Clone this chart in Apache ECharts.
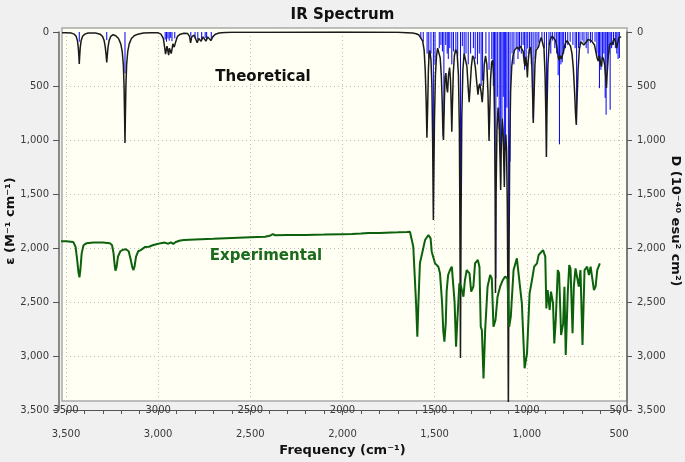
<!DOCTYPE html>
<html><head><meta charset="utf-8">
<script src="https://cdn.jsdelivr.net/npm/echarts/dist/echarts.min.js"></script>
<style>html,body{margin:0;padding:0;background:#f0f0f0;}#c{width:685px;height:462px;}</style>
</head><body><div id="c"></div>
<script>
// ---------- data ----------
const freqTicks = [3500, 3000, 2500, 2000, 1500, 1000, 500];
const yTicks = [0, 500, 1000, 1500, 2000, 2500, 3000, 3500];

// theoretical broadened spectrum (frequency cm-1, epsilon)
const theoreticalLine = [
[3521,8],[3500,6],[3470,10],[3455,20],[3445,40],[3438,80],[3433,150],[3430,230],[3428,296],[3426,230],[3423,150],[3418,80],[3410,40],[3398,20],[3380,10],
[3340,10],[3315,20],[3302,40],[3293,80],[3287,140],[3282,220],[3279,281],[3276,220],[3272,140],[3266,80],[3257,40],[3245,25],
[3230,35],[3215,60],[3203,110],[3195,180],[3189,300],[3185,500],[3182,800],[3180,1028],[3178,800],[3175,500],[3171,300],[3165,180],[3157,110],[3145,60],[3130,35],[3110,20],[3080,10],[3040,6],
[3000,8],[2985,20],[2972,60],[2965,140],[2960,205],[2956,190],[2952,130],[2948,170],[2943,215],[2939,150],[2934,140],[2929,200],[2925,190],[2920,110],[2913,140],[2909,150],[2903,80],[2895,40],[2880,20],[2860,12],
[2840,15],[2830,40],[2824,100],[2818,45],[2805,30],[2795,45],[2788,100],[2785,110],[2780,60],[2773,50],[2767,85],[2763,95],[2757,45],[2748,45],[2741,85],[2737,95],[2731,45],[2722,40],[2714,80],[2710,90],[2704,45],[2690,20],[2670,10],[2640,5],[2600,3],[2400,2],[2000,1],[1700,3],
[1650,6],[1620,10],[1600,16],[1585,28],[1575,45],[1565,85],[1557,170],[1551,360],[1546,650],[1542,980],[1538,700],[1534,350],[1530,200],[1526,170],
[1520,260],[1515,500],[1511,1000],[1508,1600],[1507,1740],[1505,1400],[1501,800],[1496,400],[1490,220],[1484,150],[1478,160],[1470,240],[1464,400],[1459,650],[1455,950],[1452,1000],[1449,750],[1444,420],[1439,380],[1434,520],[1430,560],[1425,400],[1419,330],[1414,450],[1410,700],[1407,923],[1404,700],[1399,380],[1393,220],[1386,160],[1378,200],[1371,400],[1366,900],[1363,1800],[1360,3019],[1357,1800],[1353,800],[1347,350],[1340,200],[1333,200],[1325,320],[1318,520],[1313,650],[1308,520],[1301,320],[1294,220],[1287,240],[1279,330],[1271,480],[1265,580],[1260,500],[1255,480],[1248,560],[1242,650],[1237,520],[1231,300],[1224,220],[1217,300],[1211,550],[1207,850],[1205,1009],[1202,800],[1197,450],[1191,280],[1185,260],[1179,420],[1175,800],[1172,1500],[1170,2417],[1167,1500],[1162,900],[1156,700],[1150,850],[1145,1200],[1142,1463],[1139,1100],[1134,800],[1129,900],[1125,1200],[1122,1435],[1119,1100],[1114,950],[1110,1100],[1106,1600],[1103,2400],[1100,3426],[1097,2200],[1093,1100],[1088,550],[1082,320],[1075,220],[1067,170],[1060,160],[1052,140],[1044,160],[1036,130],[1028,140],[1020,180],[1014,280],[1010,315],[1006,230],[1001,300],[997,420],[993,280],[987,160],[980,140],[974,250],[969,550],[965,843],[961,600],[956,300],[950,170],[944,160],[937,140],[930,90],[922,50],[914,60],[907,150],[901,400],[897,750],[894,1157],[891,750],[886,320],[879,120],[871,60],[862,40],[852,50],[844,80],[836,150],[830,230],[825,260],[819,220],[812,250],[806,256],[800,170],[792,110],[782,80],[772,90],[763,130],[755,200],[748,330],[741,550],[736,750],[732,858],[728,650],[722,350],[715,160],[707,90],[699,90],[691,120],[684,130],[677,90],[668,70],[659,70],[650,80],[641,90],[633,120],[626,180],[619,240],[612,270],[606,220],[600,290],[595,320],[590,230],[584,250],[578,300],[572,420],[568,518],[564,380],[558,220],[551,120],[544,100],[538,120],[531,80],[524,60],[518,100],[512,148],[506,90],[500,50],[494,60],[488,45]
];

// computed stick spectrum (frequency cm-1, dipole strength D)
const stickFreq = [3428,3279,3180,2962,2955,2947,2940,2932,2925,2910,2823,2800,2785,2764,2745,2737,2712,
1575,1562,1541,1532,1520,1507,1498,1475,1466,1458,1450,1440,1432,1426,1418,1407,1398,1385,1375,1360,1350,1340,1330,1318,1305,1290,1280,1268,1258,1248,1240,1222,1205,1190,1182,1175,1168,1160,1150,1142,1135,1128,1122,1115,1108,1100,1091,1080,1070,1058,1048,1040,1030,1020,1012,1004,995,985,976,966,955,945,935,918,905,893,880,870,860,848,838,830,823,815,808,800,790,778,765,750,738,730,720,712,700,690,678,668,655,645,630,620,612,606,598,590,582,575,570,562,555,548,540,530,520,512,505,498];
const stickD = [90,75,383,70,90,60,80,55,85,60,40,55,70,70,55,65,70,
60,90,200,250,200,1200,300,150,120,180,770,120,200,250,150,300,180,160,220,2900,130,250,200,300,200,150,250,300,200,500,450,200,350,250,500,700,2280,600,900,1400,800,600,1300,1000,700,3420,1200,200,300,150,250,180,200,120,350,320,150,200,300,800,250,150,100,80,150,1157,120,200,80,150,200,400,1040,300,280,200,150,120,90,120,150,860,150,120,80,100,150,200,100,80,90,200,250,520,350,250,200,610,766,300,200,720,150,120,150,200,250,240];

// experimental spectrum (frequency cm-1, epsilon)
const experimentalLine = [
[3855,1926],[3700,1930],[3600,1935],[3500,1938],[3460,1945],[3448,1990],[3440,2100],[3432,2230],[3427,2272],[3422,2200],[3415,2050],[3405,1975],[3390,1957],[3350,1950],[3300,1950],[3262,1955],[3250,1975],[3242,2050],[3236,2160],[3232,2210],[3226,2180],[3218,2080],[3205,2030],[3190,2015],[3175,2012],[3160,2030],[3150,2100],[3140,2180],[3134,2204],[3128,2170],[3120,2080],[3108,2030],[3095,2019],[3070,1990],[3050,1988],[3030,1975],[3010,1965],[2985,1955],[2965,1950],[2945,1960],[2930,1948],[2918,1963],[2905,1945],[2880,1930],[2860,1926],[2800,1922],[2700,1915],[2600,1907],[2500,1900],[2420,1895],[2390,1884],[2378,1872],[2365,1882],[2300,1880],[2200,1879],[2100,1876],[2000,1872],[1950,1870],[1900,1866],[1860,1862],[1800,1860],[1700,1855],[1650,1851],[1634,1849],
[1616,1988],[1601,2510],[1594,2821],[1588,2500],[1580,2142],[1570,2127],[1552,1926],[1534,1880],[1522,1911],[1516,2034],[1507,2050],[1498,2142],[1489,2127],[1480,2173],[1471,2235],[1460,2500],[1453,2775],[1447,2868],[1440,2700],[1435,2400],[1427,2250],[1417,2204],[1407,2173],[1398,2188],[1392,2500],[1384,2914],[1378,2700],[1366,2327],[1358,2350],[1353,2343],[1344,2451],[1336,2300],[1326,2204],[1318,2220],[1311,2235],[1302,2404],[1296,2380],[1290,2358],[1281,2142],[1266,2111],[1257,2173],[1250,2729],[1244,2760],[1235,3207],[1226,2760],[1213,2358],[1199,2250],[1190,2281],[1181,2729],[1170,2667],[1159,2451],[1145,2358],[1130,2296],[1118,2265],[1105,2281],[1096,2729],[1087,2636],[1072,2204],[1054,2096],[1045,2111],[1027,2512],[1012,3114],[999,2975],[985,2420],[972,2296],[960,2173],[945,2142],[936,2065],[927,2080],[912,2019],[900,2080],[894,2559],[887,2389],[876,2574],[869,2404],[858,2512],[851,2883],[843,2667],[832,2204],[825,2235],[814,2806],[803,2698],[796,2358],[789,2991],[778,2420],[770,2158],[763,2188],[752,2790],[745,2358],[736,2188],[727,2173],[718,2358],[709,2204],[698,2898],[687,2204],[673,2173],[663,2250],[654,2173],[645,2281],[636,2389],[627,2358],[618,2204],[604,2142]
];

// ---------- chart ----------
const FONT = 'DejaVu Sans';
const labelStyle = { fontFamily: FONT, fontSize: 10, color: '#3a3a3a' };
const axisLineStyle = { color: '#666', width: 1.5 };
// stick segments: baseline -> value, separated by gaps
const stickSegments = [];
stickFreq.forEach((f, i) => { stickSegments.push([f, 0], [f, stickD[i]], [f, '-']); });

const chart = echarts.init(document.getElementById('c'), null, { renderer: 'canvas' });
chart.setOption({
  animation: false,
  backgroundColor: '#f0f0f0',
  title: { text: 'IR Spectrum', left: 'center', top: 3,
    textStyle: { fontFamily: FONT, fontSize: 15, fontWeight: 'bold', color: '#111' } },
  graphic: [
    { type: 'rect', z: -1, silent: true, shape: { x: 62, y: 28, width: 565, height: 373 },
      style: { fill: '#fffff3', stroke: '#a9a9a9', lineWidth: 1.5 } },
    { type: 'text', z: 10, x: 263, y: 77, silent: true,
      style: { text: 'Theoretical', align: 'center', verticalAlign: 'middle', font: 'bold 15px "DejaVu Sans"', fill: '#111' } },
    { type: 'text', z: 10, x: 266, y: 256, silent: true,
      style: { text: 'Experimental', align: 'center', verticalAlign: 'middle', font: 'bold 15px "DejaVu Sans"', fill: '#1c6a1c' } }
  ],
  grid: [
    { left: 62, right: 58, top: 32, bottom: 52, containLabel: false, outerBoundsMode: 'none' },
    { left: 66, right: 66, top: 32, bottom: 52, containLabel: false, outerBoundsMode: 'none' }
  ],
  xAxis: [
    { gridIndex: 0, type: 'value', inverse: true, min: 456.6, max: 3521.7, splitNumber: 6,
      axisLine: { show: false }, axisTick: { show: false },
      axisLabel: Object.assign({ margin: -5, showMinLabel: false, showMaxLabel: false, formatter: v => String(v) }, labelStyle),
      splitLine: { show: true, showMinLine: false, showMaxLine: false, lineStyle: { type: [1, 3], color: '#bdbdbd' } } },
    { gridIndex: 1, type: 'value', inverse: true, min: 500, max: 3500, interval: 500, offset: 9,
      axisLine: { show: true, lineStyle: { color: '#555', width: 1 } },
      axisTick: { show: true, length: 5, lineStyle: { color: '#555' } },
      minorTick: { show: true, splitNumber: 5, length: 4, lineStyle: { color: '#555' } },
      axisLabel: Object.assign({ margin: 10 }, labelStyle),
      splitLine: { show: false },
      name: 'Frequency (cm⁻¹)', nameLocation: 'middle', nameGap: 25,
      nameTextStyle: { fontFamily: FONT, fontSize: 13, fontWeight: 'bold', color: '#111' } }
  ],
  yAxis: [
    { gridIndex: 0, type: 'value', inverse: true, min: 0, max: 3500, interval: 500, position: 'left', offset: 3,
      axisLine: { show: true, lineStyle: axisLineStyle },
      axisTick: { show: true, length: 6, lineStyle: { color: '#555' } },
      axisLabel: Object.assign({ margin: 10 }, labelStyle),
      splitLine: { show: true, showMinLine: false, showMaxLine: false, lineStyle: { type: [1, 3], color: '#bdbdbd' } },
      name: 'ε (M⁻¹ cm⁻¹)', nameLocation: 'middle', nameGap: 42, nameMoveOverlap: false,
      nameTextStyle: { fontFamily: FONT, fontSize: 13, fontWeight: 'bold', color: '#111' } },
    { gridIndex: 0, type: 'value', inverse: true, min: 0, max: 3500, interval: 500, position: 'right', offset: 0,
      axisLine: { show: true, lineStyle: axisLineStyle },
      axisTick: { show: true, length: 5, lineStyle: { color: '#555' } },
      axisLabel: Object.assign({ margin: 10 }, labelStyle),
      splitLine: { show: false },
      name: 'D (10⁻⁴⁰ esu² cm²)', nameLocation: 'middle', nameGap: 42, nameRotate: -90, nameMoveOverlap: false,
      nameTextStyle: { fontFamily: FONT, fontSize: 13, fontWeight: 'bold', color: '#111' } },
    { gridIndex: 1, type: 'value', show: false, min: 0, max: 3500 }
  ],
  series: [
    { type: 'line', name: 'sticks', xAxisIndex: 0, yAxisIndex: 1, data: stickSegments, z: 2,
      symbol: 'none', connectNulls: false, lineStyle: { color: '#0000ff', width: 1 }, silent: true },
    { type: 'line', name: 'Theoretical', xAxisIndex: 0, yAxisIndex: 0, data: theoreticalLine, z: 3,
      symbol: 'none', lineStyle: { color: '#1b1b1b', width: 1.5 }, silent: true },
    { type: 'line', name: 'Experimental', xAxisIndex: 0, yAxisIndex: 0, data: experimentalLine, z: 4, clip: false,
      symbol: 'none', lineStyle: { color: '#0c620c', width: 2 }, silent: true }
  ]
});
</script></body></html>
